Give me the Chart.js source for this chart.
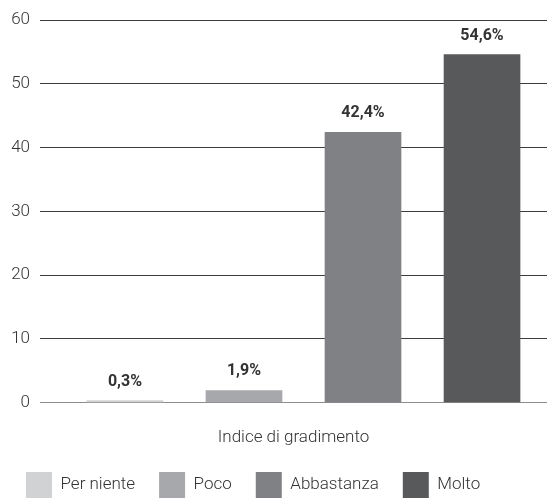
<!DOCTYPE html>
<html>
<head>
<meta charset="utf-8">
<script src="https://cdn.jsdelivr.net/npm/chart.js@4"></script>
<style>
  html, body { margin: 0; padding: 0; background: #fff; }
  #wrap { width: 547px; height: 501px; }
</style>
</head>
<body>
<div id="wrap"><canvas id="chart"></canvas></div>
<script>
const categories = ["Per niente", "Poco", "Abbastanza", "Molto"];
const values = [0.3, 1.9, 42.4, 54.6];
const yTicks = [0, 10, 20, 30, 40, 50, 60];
const colors = ["#d1d2d4", "#a7a8ab", "#808185", "#58595b"];

const FONT = "Roboto, 'Open Sans', sans-serif";

// value labels above each bar, italian decimal comma
const valueLabels = {
    id: "valueLabels",
    afterDatasetsDraw(chart) {
        const ctx = chart.ctx;
        const meta = chart.getDatasetMeta(0);
        ctx.save();
        ctx.font = "bold 16px " + FONT;
        ctx.fillStyle = "#333333";
        ctx.textAlign = "center";
        ctx.textBaseline = "bottom";
        meta.data.forEach((bar, i) => {
            const txt = values[i].toFixed(1).replace(".", ",") + "%";
            ctx.fillText(txt, bar.x, bar.y - 11);
        });
        ctx.restore();
    }
};

new Chart(document.getElementById("chart"), {
    type: "bar",
    data: {
        datasets: [{
            data: categories.map((c, i) => ({ x: i, y: values[i] })),
            backgroundColor: colors,
            barThickness: 76
        }]
    },
    options: {
        responsive: true,
        maintainAspectRatio: false,
        animation: false,
        layout: { padding: { top: 10, left: 2, right: 0, bottom: -7 } },
        plugins: {
            tooltip: { enabled: false },
            legend: {
                position: "bottom",
                align: "start",
                labels: {
                    boxWidth: 26,
                    boxHeight: 26,
                    padding: 24,
                    color: "#333333",
                    font: { family: FONT, size: 17, weight: 300 },
                    generateLabels: () => categories.map((c, i) => ({
                        text: c,
                        fillStyle: colors[i],
                        strokeStyle: colors[i],
                        lineWidth: 0,
                        fontColor: "#333333",
                        index: i
                    }))
                }
            }
        },
        scales: {
            x: {
                type: "linear",
                offset: false,
                min: -0.714,
                max: 3.546,
                grid: { display: false },
                border: { display: false },
                ticks: { display: false },
                title: {
                    display: true,
                    text: "Indice di gradimento",
                    color: "#333333",
                    font: { family: FONT, size: 17, weight: 300 },
                    padding: { top: 17, bottom: 0 }
                }
            },
            y: {
                min: 0,
                max: 60,
                afterBuildTicks: axis => { axis.ticks = yTicks.map(v => ({ value: v })); },
                afterFit: axis => { axis.width = 38; },
                border: { display: false },
                grid: {
                    drawTicks: false,
                    color: c => c.tick && c.tick.value === 0 ? "#8c8c8c" : "#3c3c3c",
                    lineWidth: 1
                },
                ticks: {
                    padding: 10,
                    color: "#333333",
                    font: { family: FONT, size: 17, weight: 300 }
                }
            }
        }
    },
    plugins: [valueLabels]
});
</script>
</body>
</html>
